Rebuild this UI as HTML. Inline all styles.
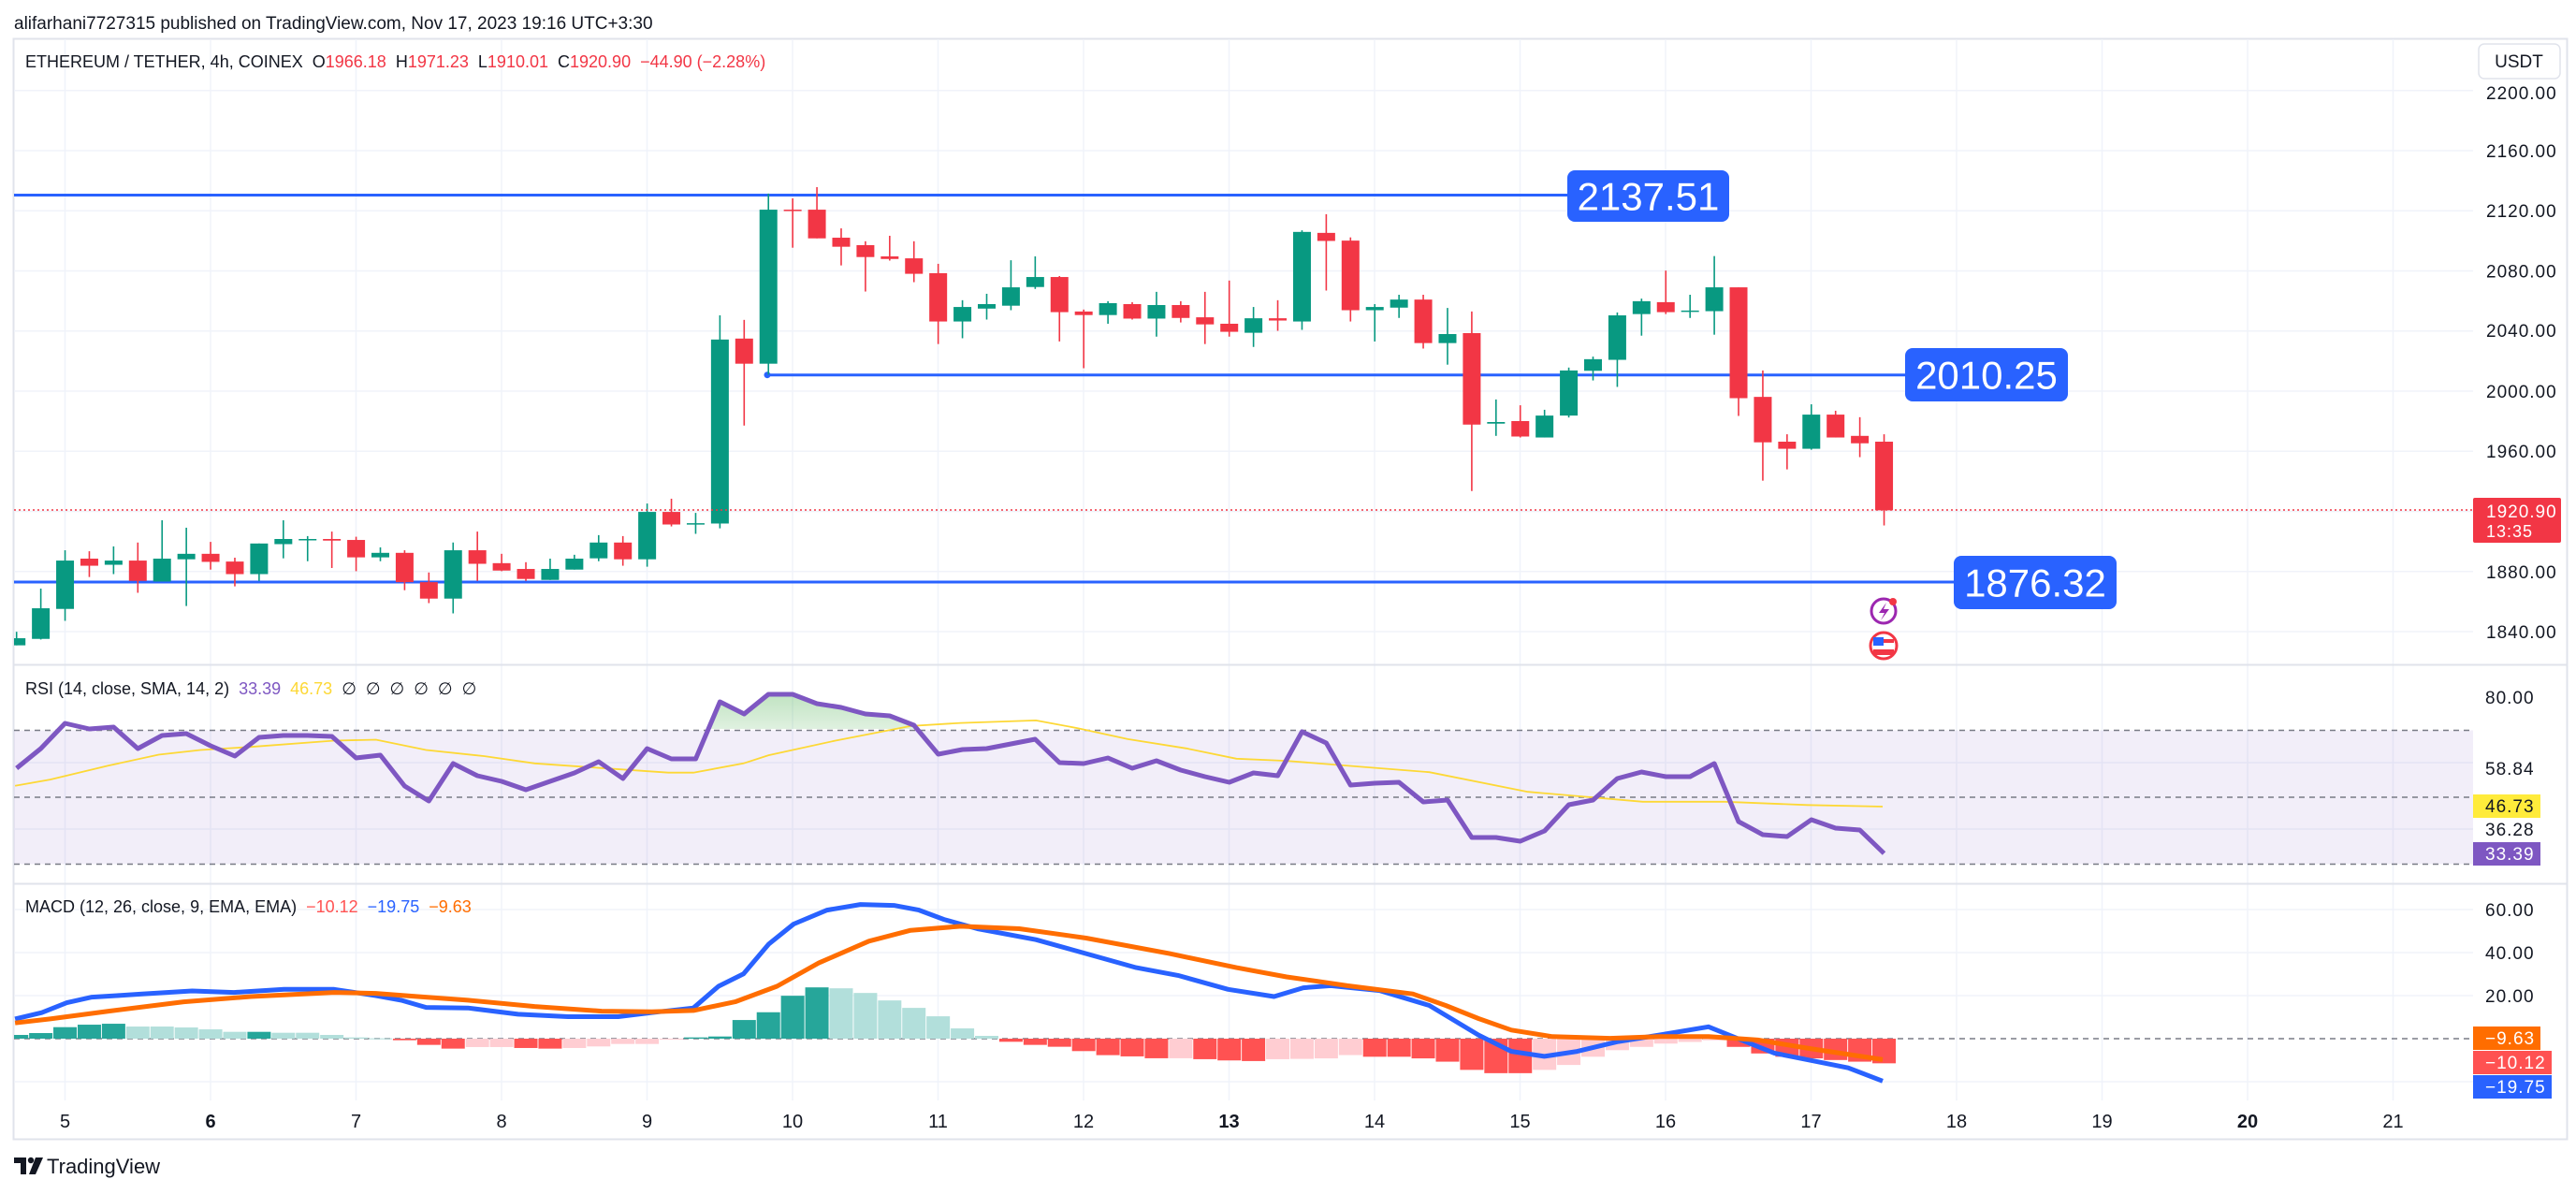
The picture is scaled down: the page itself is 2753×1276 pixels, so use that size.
<!DOCTYPE html>
<html><head><meta charset="utf-8">
<style>
html,body{margin:0;padding:0;background:#fff;}
body{width:2753px;height:1271px;overflow:hidden;font-family:"Liberation Sans",sans-serif;}
svg text{font-family:"Liberation Sans",sans-serif;}
</style></head>
<body>
<svg id="s" xmlns="http://www.w3.org/2000/svg" width="2753" height="1271" viewBox="0 0 2753 1271">
<defs>
<clipPath id="cp"><rect x="15" y="42" width="2628" height="668"/></clipPath>
<clipPath id="cr"><rect x="15" y="712" width="2628" height="232"/></clipPath>
<clipPath id="cm"><rect x="15" y="946" width="2628" height="230"/></clipPath>
<clipPath id="c70"><rect x="15" y="712" width="2628" height="67"/></clipPath>
<linearGradient id="gg" x1="0" y1="0" x2="0" y2="1"><stop offset="0" stop-color="#4caf50" stop-opacity="0.35"/><stop offset="1" stop-color="#4caf50" stop-opacity="0.03"/></linearGradient>
</defs>
<rect x="0" y="0" width="2753" height="1271" fill="#fff"/>
<text x="15" y="31" font-size="19" fill="#131722">alifarhani7727315 published on TradingView.com, Nov 17, 2023 19:16 UTC+3:30</text>
<rect x="14.5" y="41.5" width="2729" height="1176" fill="none" stroke="#e0e3eb" stroke-width="2"/>
<g id="grid"></g>
<g id="main" clip-path="url(#cp)"></g>
<g id="rsi" clip-path="url(#cr)"></g>
<g id="macd" clip-path="url(#cm)"></g>
<g id="ov"></g>
</svg>
<script>
const NS="http://www.w3.org/2000/svg";
function el(p,t,a,txt){const e=document.createElementNS(NS,t);for(const k in a)e.setAttribute(k,a[k]);if(txt!==undefined)e.textContent=txt;document.getElementById(p).appendChild(e);return e;}
const X0=15,X1=2643;
const cx=i=>17.7+i*25.92;
const py=p=>418-(p-2000)*1.606;
const ry=v=>852-(v-50)*3.575;
const my=v=>1110-v*2.3;
for(let d=5;d<=21;d++){const x=69.5+(d-5)*155.5;el('grid','line',{x1:x,y1:42,x2:x,y2:1176,stroke:'#f0f3fa','stroke-width':1.5});}
[2200,2160,2120,2080,2040,2000,1960,1920,1880,1840].forEach(p=>el('grid','line',{x1:X0,y1:py(p),x2:X1,y2:py(p),stroke:'#f0f3fa','stroke-width':1.5}));
[815,886].forEach(y=>el('grid','line',{x1:X0,y1:y,x2:X1,y2:y,stroke:'#f0f3fa','stroke-width':1.5}));
[60,40,20,-20].forEach(v=>el('grid','line',{x1:X0,y1:my(v),x2:X1,y2:my(v),stroke:'#f0f3fa','stroke-width':1.5}));
el('grid','line',{x1:15,y1:710.5,x2:2743,y2:710.5,stroke:'#e0e3eb','stroke-width':2});
el('grid','line',{x1:15,y1:944.5,x2:2743,y2:944.5,stroke:'#e0e3eb','stroke-width':2});
const C=[[1458,1480,1438,1480,1],[1365,1460,1304,1462,1],[1217,1367,1185,1404,1],[1211,1233,1188,1268,0],[1217,1230,1173,1259,1],[1217,1280,1161,1317,0],[1211,1282,1092,1282,1],[1196,1213,1115,1358,1],[1196,1221,1159,1245,0],[1220,1259,1208,1297,0],[1164,1259,1164,1280,1],[1150,1166,1092,1210,1],[1150,1153,1141,1219,1],[1150,1155,1127,1240,0],[1153,1207,1143,1250,0],[1193,1207,1176,1219,1],[1193,1284,1185,1309,0],[1284,1335,1254,1349,0],[1185,1335,1161,1381,1],[1185,1227,1127,1280,0],[1225,1248,1196,1250,0],[1243,1274,1222,1280,0],[1243,1277,1211,1277,1],[1211,1245,1199,1245,1],[1161,1210,1138,1219,1],[1161,1213,1141,1233,0],[1066,1213,1040,1236,1],[1066,1105,1025,1111,0],[1101,1105,1069,1134,1],[531,1102,456,1117,1],[528,606,470,798,0],[128,606,78,640,1],[128,131,93,246,0],[128,217,58,217,0],[215,243,186,301,0],[238,275,226,382,0],[273,281,209,286,0],[279,327,226,353,0],
[325,475,296,545,0],[430,475,409,527,1],[421,435,389,469,1],[369,426,285,440,1],[337,368,273,374,1],[337,446,334,537,0],[444,455,438,620,0],[418,455,412,482,1],[421,466,415,469,0],[424,466,383,522,1],[424,464,412,478,0],[462,484,383,545,0],[482,507,348,522,0],[465,510,430,554,1],[465,472,409,504,0],[197,475,192,501,1],[200,225,142,379,0],[224,440,214,475,0],[430,440,421,537,1],[407,432,392,464,1],[407,542,392,559,0],[514,542,433,609,1],[511,795,444,1001,0],[787,792,717,830,1],[784,832,735,835,0],[767,835,749,835,1],[627,767,618,773,1],[592,628,584,658,1],[456,594,447,678,1],[412,452,404,519,1],[415,446,317,452,0],[441,445,392,464,1],[369,443,272,516,1],[369,713,369,768,0],[709,850,627,969,0],[848,870,825,934,0],[764,870,732,873,1],[764,835,752,835,0],[830,853,772,896,0],[848,1061,825,1108,0]];
const zy=d=>180+d/2.904;
el('main','line',{x1:15,y1:208.5,x2:1680,y2:208.5,stroke:'#2962ff','stroke-width':3});
el('main','line',{x1:820,y1:400.7,x2:2040,y2:400.7,stroke:'#2962ff','stroke-width':3});
el('main','circle',{cx:820,cy:400.7,r:3.5,fill:'#2962ff'});
el('main','line',{x1:15,y1:622,x2:2090,y2:622,stroke:'#2962ff','stroke-width':3});
C.forEach((c,i)=>{const x=cx(i),col=c[4]?'#089981':'#f23645';
 el('main','line',{x1:x,y1:zy(c[2]),x2:x,y2:zy(c[3]),stroke:col,'stroke-width':1.6});
 const t=zy(c[0]),b=Math.max(zy(c[1]),t+1.5);
 el('main','rect',{x:x-9.5,y:t,width:19,height:b-t,fill:col});});
el('main','line',{x1:15,y1:545,x2:2643,y2:545,stroke:'#f23645','stroke-width':1.5,'stroke-dasharray':'2 3'});
function box(x,y,w,h,t){el('ov','rect',{x:x,y:y,width:w,height:h,rx:8,fill:'#2962ff'});el('ov','text',{x:x+w/2,y:y+h/2+15,'font-size':42,fill:'#fff','text-anchor':'middle'},t);}
box(1675,182,173,55,'2137.51');box(2036,372,174,57,'2010.25');box(2088,594,174,57,'1876.32');
el('ov','circle',{cx:2013,cy:653,r:13,fill:'#fff',stroke:'#9c27b0','stroke-width':3});
el('ov','path',{d:'M2016 644 L2008 655 L2014 655 L2010 663 L2019 651 L2013 651 Z',fill:'#9c27b0'});
el('ov','circle',{cx:2023,cy:643,r:4,fill:'#f23645'});
el('ov','circle',{cx:2013,cy:690,r:14,fill:'#fff',stroke:'#f23645','stroke-width':3});
el('ov','rect',{x:2002,y:681,width:11,height:9,fill:'#2962ff'});
el('ov','rect',{x:2002,y:690,width:22,height:4,fill:'#fff'});
el('ov','rect',{x:2002,y:694,width:22,height:6,fill:'#f23645'});
el('ov','rect',{x:2013,y:683,width:11,height:4,fill:'#f23645'});
const lg=el('ov','text',{x:27,y:72,'font-size':18,fill:'#131722'});
[['ETHEREUM / TETHER, 4h, COINEX  O','#131722'],['1966.18','#f23645'],['  H','#131722'],['1971.23','#f23645'],['  L','#131722'],['1910.01','#f23645'],['  C','#131722'],['1920.90','#f23645'],['  −44.90 (−2.28%)','#f23645']].forEach(([t,c])=>{const s=document.createElementNS(NS,'tspan');s.setAttribute('fill',c);s.textContent=t;lg.appendChild(s);});
lg.setAttribute('style','white-space:pre');
el('rsi','rect',{x:15,y:ry(70),width:2628,height:ry(30)-ry(70),fill:'#7e57c2','fill-opacity':0.1});
[70,50,30].forEach(v=>el('rsi','line',{x1:15,y1:ry(v),x2:2643,y2:ry(v),stroke:'#787b86','stroke-width':1.5,'stroke-dasharray':'6 5'}));
const R=[821,800,773,779,777,800,786,784,797,808,788,786,786,787,810,807,840,856,816,829,835,844,835,826,814,832,800,811,811,750,763,742,742,752,756,763,765,775,806,801,800,795,790,815,816,810,821,813,823,830,836,826,829,782,794,839,837,836,857,855,895,895,899,888,860,855,832,825,830,830,816,878,892,894,876,885,887,912];
const rp=R.map((y,i)=>[cx(i),y]);
const ptsStr=a=>a.map(p=>p[0].toFixed(1)+','+p[1].toFixed(1)).join(' ');
el('rsi','polygon',{points:ptsStr([[cx(27),779],...rp.slice(27,39),[cx(38),779]]),fill:'url(#gg)','clip-path':'url(#c70)'});
const Z3=a=>a.map(([x,y])=>[x/1.12,750+y/3.01]);
const MM=a=>a.map(([x,y])=>[x*1.7557,y*1.7557]);
const Y=Z3([[18,270],[60,250],[130,205],[190,170],[240,155],[300,145],[400,125],[450,122],[510,155],[580,175],[640,198],[720,213],[800,228],[830,228],[890,198],[920,172],[1000,125],[1090,78],[1150,68],[1240,60],[1290,85],[1350,120],[1420,150],[1480,183],[1540,190]]).concat(MM([[870,470],[930,482],[1000,488],[1050,488],[1100,490],[1146,491]]));
el('rsi','polyline',{points:ptsStr(Y),fill:'none',stroke:'#fdd835','stroke-width':1.8});
el('rsi','polyline',{points:ptsStr(rp),fill:'none',stroke:'#7e57c2','stroke-width':5,'stroke-linejoin':'round'});
const rl=el('ov','text',{x:27,y:742,'font-size':18,fill:'#131722'});
[['RSI (14, close, SMA, 14, 2)  ','#131722'],['33.39','#7e57c2'],['  46.73','#fdd835'],['  ∅  ∅  ∅  ∅  ∅  ∅','#131722']].forEach(([t,c])=>{const s=document.createElementNS(NS,'tspan');s.setAttribute('fill',c);s.textContent=t;rl.appendChild(s);});
rl.setAttribute('style','white-space:pre');
el('macd','line',{x1:15,y1:1110,x2:2643,y2:1110,stroke:'#787b86','stroke-width':1.5,'stroke-dasharray':'6 5'});
const H1=[[1068,1],[1062,1],[1043,1],[1035,1],[1032,1],[1041,0],[1041,0],[1044,0],[1050,0],[1058,0],[1058,1],[1061,0],[1061,0],[1068,0],[1076,0],[1079,0],[1085,1],[1100,1],[1112,1],[1107,0],[1107,0],[1110,1],[1112,1],[1110,0],[1105,0],[1097,0],[1097,0],[1082,0],[1076,1],[1073,1],[1020,1],[995,1],[942,1],[915,1],[918,0],[933,0],[957,0],[981,0],[1008,0],[1047,0],[1071,0],[1090,1],[1100,1],[1106,1],[1120,1],[1133,1],[1137,1],[1143,1],[1143,0],[1146,1],[1150,1],[1152,1],[1146,0],[1145,0]];
H1.forEach(([d,dk],i)=>{const h=(1080-d)/3.01;const x=cx(i)-12.5;let col;if(h>=0)col=dk?'#26a69a':'#b2dfdb';else col=dk?'#ff5252':'#ffcdd2';
 el('macd','rect',{x:x,y:h>=0?1110-h:1110,width:25,height:Math.max(Math.abs(h),1),fill:col});});
const H2=[[643,0],[641,0],[642,1],[642,1],[643,1],[645,1],[650,1],[652,1],[652,1],[650,0],[647,0],[642,0],[638,0],[636,0],[634,0],[633,0],[632,0],[636,1],[640,1],[642,1],[643,1],[644,1],[645,1],[646,1]];
H2.forEach(([d,dk],k)=>{const i=54+k;const h=(d-631)*1.7557;el('macd','rect',{x:cx(i)-12.5,y:1110,width:25,height:Math.max(h,1),fill:dk?'#ff5252':'#ffcdd2'});});
const B=Z3([[18,1020],[50,1000],[80,968],[110,950],[140,945],[170,940],[230,930],[280,935],[340,925],[400,925],[450,945],[480,960],[510,983],[560,985],[620,1005],[680,1013],[740,1013],[780,1000],[830,985],[860,915],[890,875],[920,780],[950,715],[990,670],[1030,652],[1070,655],[1100,670],[1130,700],[1170,730],[1240,765],[1300,810],[1360,855],[1410,880],[1470,925],[1525,948],[1560,920]]).concat(MM([[810,600],[840,603],[870,612],[900,630],[920,640],[940,643],[960,640],[985,634],[1010,630],[1040,625],[1060,633],[1080,641],[1100,645],[1125,650],[1146,658]]));
const O=Z3([[18,1033],[60,1020],[130,995],[220,965],[300,948],[400,935],[450,938],[500,948],[560,960],[640,980],[720,995],[780,997],[830,993],[880,965],[930,915],[980,840],[1040,770],[1090,735],[1150,722],[1220,730],[1300,760],[1400,810],[1480,855],[1540,885]]).concat(MM([[800,597],[820,600],[860,605],[880,612],[900,620],[920,627],[945,631],[980,632],[1010,631],[1040,631],[1070,633],[1100,638],[1146,645]]));
el('macd','polyline',{points:ptsStr(B),fill:'none',stroke:'#2962ff','stroke-width':5,'stroke-linejoin':'round'});
el('macd','polyline',{points:ptsStr(O),fill:'none',stroke:'#ff6d00','stroke-width':5,'stroke-linejoin':'round'});
const ml=el('ov','text',{x:27,y:975,'font-size':18,fill:'#131722'});
[['MACD (12, 26, close, 9, EMA, EMA)  ','#131722'],['−10.12','#ff5252'],['  −19.75','#2962ff'],['  −9.63','#ff6d00']].forEach(([t,c])=>{const s=document.createElementNS(NS,'tspan');s.setAttribute('fill',c);s.textContent=t;ml.appendChild(s);});
ml.setAttribute('style','white-space:pre');
el('ov','rect',{x:2649,y:47,width:87,height:37,rx:6,fill:'#fff',stroke:'#e0e3eb','stroke-width':1.5});
el('ov','text',{x:2692,y:72,'font-size':19,fill:'#131722','text-anchor':'middle'},'USDT');
[[2200,99],[2160,161],[2120,225],[2080,289.5],[2040,353],[2000,418],[1960,482],[1880,611],[1840,675]].forEach(([p,y])=>{el('ov','text',{x:2657,y:y+7,'font-size':19,fill:'#131722','letter-spacing':'1'},p.toFixed(2));});
el('ov','rect',{x:2643,y:532,width:94,height:48,rx:2,fill:'#f23645'});
el('ov','text',{x:2657,y:553,'font-size':19,fill:'#fff','letter-spacing':'1'},'1920.90');
el('ov','text',{x:2657,y:574,'font-size':18,fill:'#fff','letter-spacing':'1'},'13:35');
function al(y,t,bg,fg,w){if(bg)el('ov','rect',{x:2643,y:y-12,width:w,height:25,fill:bg});el('ov','text',{x:2656,y:y+7,'font-size':19,fill:fg,'letter-spacing':'1'},t);}
al(745,'80.00',null,'#131722');al(821,'58.84',null,'#131722');al(861,'46.73','#ffeb3b','#131722',72);al(886,'36.28',null,'#131722');al(912,'33.39','#7e57c2','#fff',72);
al(972,'60.00',null,'#131722');al(1018,'40.00',null,'#131722');al(1064,'20.00',null,'#131722');
al(1109,'−9.63','#ff6d00','#fff',72);al(1135,'−10.12','#ff5252','#fff',84);al(1161,'−19.75','#2962ff','#fff',84);
for(let d=5;d<=21;d++){const x=69.5+(d-5)*155.5;const b=(d===6||d===13||d===20);el('ov','text',{x:x,y:1205,'font-size':20,fill:'#131722','text-anchor':'middle','font-weight':b?'bold':'normal'},String(d));}
el('ov','path',{d:'M15 1237 h13 v18 h-6 v-12 h-7 z',fill:'#131722'});
el('ov','circle',{cx:33,cy:1240,r:3.2,fill:'#131722'});
el('ov','path',{d:'M38 1237 h8 l-8 18 h-7 z',fill:'#131722'});
el('ov','text',{x:50,y:1254,'font-size':22,fill:'#131722'},'TradingView');
</script>
</body></html>
